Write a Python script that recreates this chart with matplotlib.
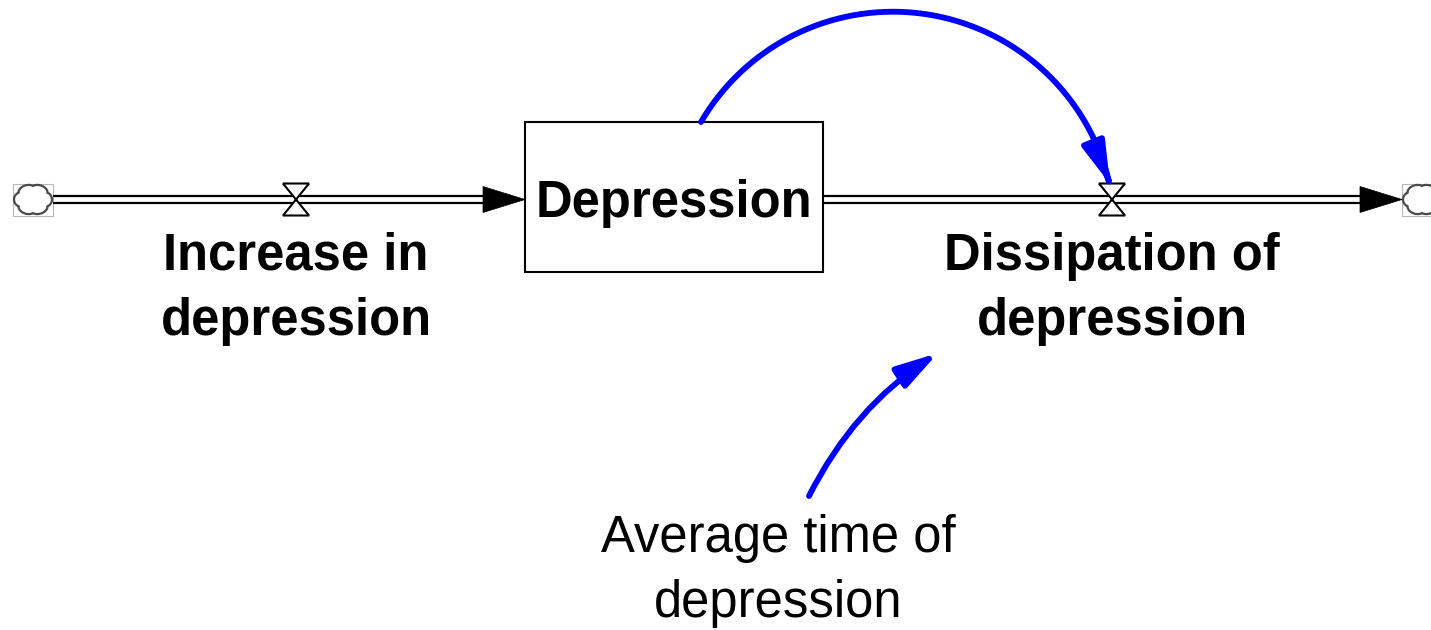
import numpy as np
import matplotlib.pyplot as plt
from matplotlib.patches import Rectangle, Polygon, FancyArrowPatch
from matplotlib.path import Path

plt.rcParams['font.family'] = ['Liberation Sans', 'DejaVu Sans']

# stock-and-flow model: one stock, an inflow, an outflow, one auxiliary
stock_name = 'Depression'
inflow_label = ['Increase in', 'depression']
outflow_label = ['Dissipation of', 'depression']
aux_label = ['Average time of', 'depression']

# layout in pixels, y pointing down
W, H = 1431, 630
pipe_y = 199.5
stock_box = (525, 122, 823, 272)
inflow_x = 296
outflow_x = 1112
line_gap = 65

fig = plt.figure(figsize=(W / 100, H / 100), dpi=100)
ax = fig.add_axes([0, 0, 1, 1])
ax.set_xlim(0, W)
ax.set_ylim(H, 0)
ax.axis('off')


def pipe(x0, x1):
    for dy in (-3.6, 3.6):
        ax.plot([x0, x1], [pipe_y + dy] * 2, color='black', lw=1.6,
                solid_capstyle='butt', zorder=2)


def pipe_head(tip_x):
    ax.add_patch(Polygon([(tip_x - 42, pipe_y - 13), (tip_x, pipe_y),
                          (tip_x - 42, pipe_y + 13)],
                         closed=True, fc='black', ec='black', lw=0.5, zorder=3))


def valve(x):
    pts = [(x - 13, pipe_y - 16), (x + 13, pipe_y - 16), (x, pipe_y),
           (x + 13, pipe_y + 16), (x - 13, pipe_y + 16), (x, pipe_y)]
    ax.add_patch(Polygon(pts, closed=True, fc='white', ec='black',
                         lw=1.5, zorder=4))


def cloud(x0, x1):
    ax.add_patch(Rectangle((x0, pipe_y - 16), x1 - x0, 32, fill=False,
                           ec='#b8b8b8', lw=0.8, zorder=2))
    # scalloped outline of the source/sink cloud
    t = np.linspace(0, 2 * np.pi, 400)
    cx = (x0 + x1) / 2
    wob = 0.86 + 0.14 * np.abs(np.cos(3 * t)) ** 0.6
    ax.plot(cx + 19 * np.cos(t) * wob, pipe_y + 15.5 * np.sin(t) * wob,
            color='#4a4a4a', lw=1.6, zorder=3)


def label(lines, x, y0, weight):
    for i, s in enumerate(lines):
        ax.text(x, y0 + i * line_gap, s, ha='center', va='baseline',
                fontsize=36.5, fontweight=weight, color='black', zorder=6)


# flows
cloud(13, 53)
pipe(53, 485)
pipe_head(stock_box[0])
valve(inflow_x)

pipe(stock_box[2], 1362)
pipe_head(1402)
cloud(1402, 1442)
valve(outflow_x)

# stock
ax.add_patch(Rectangle((stock_box[0], stock_box[1]),
                       stock_box[2] - stock_box[0], stock_box[3] - stock_box[1],
                       fc='white', ec='black', lw=1.5, zorder=3))
ax.text((stock_box[0] + stock_box[2]) / 2, 217, stock_name, ha='center',
        va='baseline', fontsize=36.5, fontweight='bold', zorder=6)

label(inflow_label, inflow_x, 270, 'bold')
label(outflow_label, outflow_x, 270, 'bold')
label(aux_label, 778, 552, 'normal')

# information links
start = np.array([701, 122])
end = np.array([1110, 184])
center = np.array([893, 234])
rad = np.hypot(*(start - center))
a0 = np.arctan2(start[1] - center[1], start[0] - center[0])
a1 = np.arctan2(end[1] - center[1], end[0] - center[0])
th = np.linspace(a0, a1, 200)
arc = np.column_stack([center[0] + rad * np.cos(th), center[1] + rad * np.sin(th)])
arc[-1] = end

style = '-|>,head_length=25,head_width=7'
ax.add_patch(FancyArrowPatch(path=Path(arc), arrowstyle=style, mutation_scale=1,
                             color='#0000ff', lw=4.2, zorder=5))

link2 = Path([(809, 496), (854, 407), (938, 353)],
             [Path.MOVETO, Path.CURVE3, Path.CURVE3])
ax.add_patch(FancyArrowPatch(path=link2, arrowstyle=style, mutation_scale=1,
                             color='#0000ff', lw=4.2, zorder=5))

fig.savefig('out.png', dpi=100)
